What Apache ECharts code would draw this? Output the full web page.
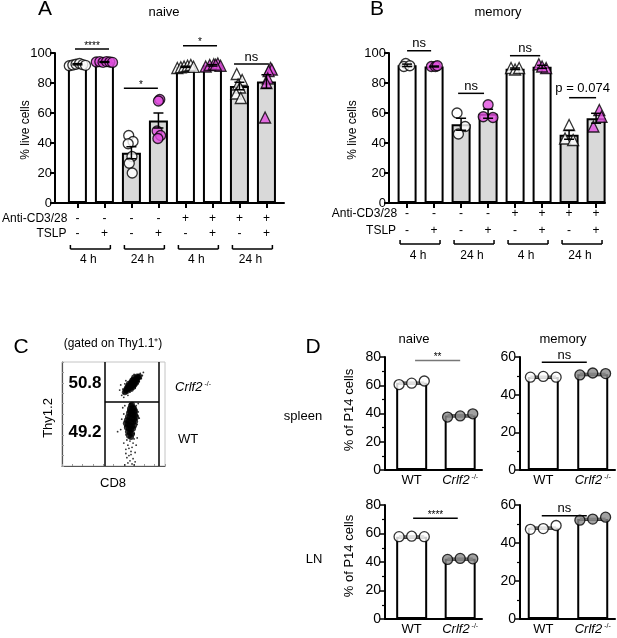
<!DOCTYPE html>
<html><head><meta charset="utf-8">
<script src="https://cdn.jsdelivr.net/npm/echarts@6/dist/echarts.min.js"></script>
<style>html,body{margin:0;padding:0;background:#fff}#c{width:617px;height:638px}</style>
</head><body><div id="c"></div>
<script>
// ---------------- DATA ----------------
// Panels A/B: conditions (8 bars)
const cd3Row  = ['-','-','-','-','+','+','+','+'];
const tslpRow = ['-','+','-','+','-','+','-','+'];
const timeGroups = ['4 h','24 h','4 h','24 h'];
const abYTicks = [0,20,40,60,80,100];

// Panel A: naive, % live cells
const naiveMeans = [92.5, 94, 33.5, 55, 90.8, 91.8, 78, 81];
const naiveSem   = [0.4, 0.3, 4, 5, 0.4, 0.5, 2.5, 4.5];
const naivePoints = [
  [91.5, 92, 92.5, 93, 92.2, 91.8],
  [94, 94.2, 93.8, 94.3, 94, 93.7],
  [45, 41, 39.5, 31, 26.5, 20],
  [69, 68, 48, 45, 43],
  [90, 90.5, 91, 91.5, 92, 90.8],
  [91, 92, 92.5, 93, 91.5, 92.2],
  [86, 82, 79, 77, 73, 70],
  [90, 89, 88, 83, 80, 57]
];
const naiveJitter = [
  [-0.3,-0.17,-0.05,0.08,0.2,0.3],
  [-0.3,-0.17,-0.05,0.08,0.2,0.3],
  [-0.1,0.06,-0.12,0.02,-0.08,0.03],
  [0.05,0.0,-0.05,0.08,-0.02],
  [-0.3,-0.17,-0.05,0.08,0.2,0.3],
  [-0.25,-0.1,0.05,0.2,0.3,0.12],
  [-0.1,0.1,-0.05,0.02,-0.12,0.05],
  [0.15,0.2,0.08,0.05,0.0,-0.05]
];
// Panel B: memory, % live cells
const memoryMeans = [91.8, 91, 52.5, 59.5, 89.5, 90.8, 45.5, 56.5];
const memorySem   = [0.8, 0.3, 4, 3, 0.5, 1, 3, 3.3];
const memoryPoints = [
  [93, 91, 91.5], [91, 91, 91.5], [60, 51, 46], [65.5, 57.5, 57],
  [90, 89, 90], [92.5, 90, 91], [52, 43, 42], [62, 57.5, 51]
];
const memoryJitter = [
  [-0.05,-0.12,0.1], [-0.1,0.05,0.12], [-0.15,0.15,-0.1], [0.0,-0.18,0.18],
  [-0.15,0.0,0.15], [-0.12,0.15,0.0], [0.0,-0.15,0.15], [0.12,0.2,-0.1]
];
// Significance brackets: [x from, x to, y level, label]
const naiveSig  = [[-0.09,1.17,102.7,'****'],[1.72,2.98,76.5,'*'],[3.91,5.17,104.9,'*'],[5.8,7.09,92.7,'ns']];
const memorySig = [[0.0,0.89,101.5,'ns'],[1.89,2.85,73.1,'ns'],[3.81,4.93,98.2,'ns'],[6.0,7.0,70.2,'p = 0.074']];

// Panel C: flow plot (CD8 vs Thy1.2, plot units 0-100)
const gateX = [41.7, 94.2];
const gateSplitY = 61.8;
const gatePercents = ['50.8','49.2'];
const crlf2Core = [[62,73],[63,75],[64,74],[65,76],[66,78],[64,77],[66,75],[67,77],[68,79],[69,78],[67,80],[68,82],[70,81],[69,83],[71,82],[72,84],[73,83],[71,79],[70,78],[72,81],[74,85],[65,79],[63,72],[67,74],[69,76],[73,86],[75,86],[61,71],[70,85]];
const crlf2Sparse = [[60,70],[59,74],[61,79],[70,88],[76,89],[77,84],[74,79],[58,68],[62,82],[78,87],[57,78],[66,71],[71,75],[75,81],[60,66],[64,68],[79,90],[56,73]];
const wtCore = [[67,58],[69,56],[66,55],[68,53],[70,52],[65,51],[67,50],[69,49],[71,49],[64,47],[66,47],[68,46],[70,45],[63,44],[65,43],[67,42],[69,42],[71,43],[64,40],[66,39],[68,38],[70,39],[65,36],[67,35],[69,36],[64,33],[66,32],[68,31],[65,29],[67,28],[70,55],[66,53],[72,47],[62,41],[68,59],[63,37],[71,53]];
const wtSparse = [[72,58],[74,52],[60,50],[61,38],[73,40],[62,30],[70,31],[63,25],[66,24],[69,22],[64,20],[68,18],[62,16],[67,14],[71,13],[65,10],[63,8],[69,7],[66,5],[64,3],[68,2],[61,1],[70,1],[72,20],[60,22],[75,46],[58,45],[59,56],[74,60],[57,35],[73,27],[66,60],[61,58],[54,33],[67,11],[71,4],[62,12],[65,17],[70,26]];

// Panel D: % of P14 cells
const dGroups = ['WT','Crlf2'];
const spleenNaiveMeans = [61.7, 38.6];
const spleenNaiveWT = [60.5, 61.5, 63];
const spleenNaiveKO = [37.5, 38.3, 39.8];
const spleenMemoryMeans = [49.4, 50.9];
const spleenMemoryWT = [49.3, 49.7, 49.3];
const spleenMemoryKO = [50.5, 51.5, 51.2];
const lnNaiveMeans = [57.8, 42.2];
const lnNaiveWT = [57.8, 58.1, 57.8];
const lnNaiveKO = [41.8, 42.5, 42.2];
const lnMemoryMeans = [48, 52.6];
const lnMemoryWT = [47.2, 47.6, 49.2];
const lnMemoryKO = [52, 52.6, 53.6];
const dJitter = [-0.26, 0, 0.26];
const dSig = [[0.07,1.0,77.5,'**'],[-0.03,0.88,57.2,'ns'],[0.03,0.95,70.7,'****'],[-0.03,0.88,54.4,'ns']];

// ---------------- CHART ----------------
const FONT = '"Liberation Sans", Arial, Helvetica, sans-serif';
const MAGENTA = '#e24fe0';
const GREYBAR = '#d9d9d9';
const chart = echarts.init(document.getElementById('c'), null, {renderer:'canvas'});

const grids = [
  {left:55, top:53, width:229, height:150},
  {left:389, top:53, width:216, height:150},
  {left:62, top:362, width:103, height:104, show:true, borderColor:'#c4c4c4', borderWidth:1},
  {left:385, top:357, width:97, height:113},
  {left:520, top:357, width:95, height:113},
  {left:385, top:505, width:97, height:114},
  {left:520, top:505, width:95, height:114}
];
const idx8 = cd3Row.map((_, i) => i);
const blackLine = {show:true, onZero:false, lineStyle:{color:'#000', width:2}};
const xAxes = [], yAxes = [], series = [];

function abAxes(gi, min, max) {
  xAxes.push({gridIndex:gi, type:'value', min, max, axisLine:blackLine,
    axisTick:{show:true, customValues:idx8, length:5, lineStyle:{color:'#000', width:2}},
    axisLabel:{show:false, customValues:idx8}, splitLine:{show:false}});
  yAxes.push({gridIndex:gi, type:'value', min:0, max:100, interval:20, axisLine:blackLine,
    axisTick:{show:true, length:5, lineStyle:{color:'#000', width:2}},
    axisLabel:{color:'#000', fontSize:13, fontFamily:FONT, margin:3}, splitLine:{show:false}});
}
function errRender(params, api) {
  const x = api.value(0), m = api.value(1), s = api.value(2);
  const t = api.coord([x, m + s]), b = api.coord([x, m - s]);
  const hw = 5, st = {stroke:'#000', lineWidth:1.5};
  return {type:'group', children:[
    {type:'line', shape:{x1:t[0], y1:t[1], x2:b[0], y2:b[1]}, style:st},
    {type:'line', shape:{x1:t[0]-hw, y1:t[1], x2:t[0]+hw, y2:t[1]}, style:st},
    {type:'line', shape:{x1:b[0]-hw, y1:b[1], x2:b[0]+hw, y2:b[1]}, style:st}
  ]};
}
function abSeries(gi, means, sem, points, jitter) {
  series.push({type:'bar', xAxisIndex:gi, yAxisIndex:gi, barWidth:19, silent:true,
    data: means.map((v, i) => ({value:[i, v], itemStyle:{color: (Math.floor(i/2) % 2 === 1) ? GREYBAR : '#fff'}})),
    itemStyle:{borderColor:'#000', borderWidth:2}, z:2});
  const pts = [];
  points.forEach((arr, i) => arr.forEach((v, k) => {
    const tri = cd3Row[i] === '+';
    pts.push({value:[i + jitter[i][k], v], symbol: tri ? 'triangle' : 'circle', symbolSize: tri ? 11 : 10,
      itemStyle:{color: tslpRow[i] === '+' ? MAGENTA : '#fff', borderColor:'#000', borderWidth:1.3}});
  }));
  series.push({type:'scatter', xAxisIndex:gi, yAxisIndex:gi, data:pts, silent:true, z:3});
  series.push({type:'custom', xAxisIndex:gi, yAxisIndex:gi, renderItem:errRender, silent:true, z:4,
    data: means.map((v, i) => [i, v, sem[i]]), encode:{x:0, y:1}});
}
abAxes(0, -0.83, 7.65); abSeries(0, naiveMeans, naiveSem, naivePoints, naiveJitter);
abAxes(1, -0.67, 7.33); abSeries(1, memoryMeans, memorySem, memoryPoints, memoryJitter);

// Panel C
xAxes.push({gridIndex:2, type:'value', min:0, max:100, interval:10,
  axisLine:{show:true, onZero:false, lineStyle:{color:'#555', width:1.2}},
  axisTick:{show:true, inside:true, length:2, lineStyle:{color:'#999'}}, axisLabel:{show:false}, splitLine:{show:false}});
yAxes.push({gridIndex:2, type:'value', min:0, max:100, interval:10,
  axisLine:{show:true, onZero:false, lineStyle:{color:'#555', width:1.2}},
  axisTick:{show:true, inside:true, length:2, lineStyle:{color:'#999'}}, axisLabel:{show:false}, splitLine:{show:false}});
const gateLines = [
  [[gateX[0], 0], [gateX[0], 100]],
  [[gateX[1], 0], [gateX[1], 100]],
  [[gateX[0], gateSplitY], [gateX[1], gateSplitY]]
];
series.push({type:'scatter', xAxisIndex:2, yAxisIndex:2, symbolSize:6, silent:true,
  itemStyle:{color:'#000'}, data: crlf2Core.concat(wtCore),
  markLine:{silent:true, symbol:'none', label:{show:false}, lineStyle:{color:'#000', width:1.5, type:'solid'},
    data: gateLines.map(l => [{coord:l[0]}, {coord:l[1]}])}});
series.push({type:'scatter', xAxisIndex:2, yAxisIndex:2, symbolSize:1.8, silent:true,
  itemStyle:{color:'#000'}, data: crlf2Sparse.concat(wtSparse)});

// Panel D
const dIdx = [0, 1];
function dPanel(gi, ymax, means, wt, ko, min, max) {
  xAxes.push({gridIndex:gi, type:'value', min, max, axisLine:blackLine, axisTick:{show:false},
    axisLabel:{customValues:dIdx, margin:4, color:'#000', fontFamily:FONT, fontSize:13,
      formatter: v => v === 0 ? dGroups[0] : '{it|' + dGroups[1] + '}{sup| -/-}',
      rich:{it:{fontStyle:'italic', fontSize:13, fontFamily:FONT, color:'#000'},
            sup:{fontSize:7, fontFamily:FONT, color:'#000', verticalAlign:'top', padding:[0,0,6,0]}}},
    splitLine:{show:false}});
  yAxes.push({gridIndex:gi, type:'value', min:0, max:ymax, interval:20, axisLine:blackLine,
    axisTick:{show:true, length:5, lineStyle:{color:'#000', width:1.5}},
    minorTick:{show:true, splitNumber:2, length:3, lineStyle:{color:'#000', width:1.2}},
    axisLabel:{color:'#000', fontSize:14, fontFamily:FONT, margin:4}, splitLine:{show:false}});
  series.push({type:'bar', xAxisIndex:gi, yAxisIndex:gi, barWidth:31, silent:true, z:2,
    data: means.map((v, i) => [i, v]), itemStyle:{color:'#fff', borderColor:'#000', borderWidth:2}});
  series.push({type:'custom', xAxisIndex:gi, yAxisIndex:gi, silent:true, z:3, encode:{x:0, y:1},
    data: means.map((v, i) => [i, v]),
    renderItem:(p, api) => {
      const a = api.coord([api.value(0) - 0.26, api.value(1)]), b = api.coord([api.value(0) + 0.26, api.value(1)]);
      return {type:'line', shape:{x1:a[0], y1:a[1], x2:b[0], y2:b[1]}, style:{stroke:'#666', lineWidth:3}};
    }});
  const pts = [];
  wt.forEach((v, k) => pts.push({value:[0 + dJitter[k], v], itemStyle:{color:'#fff'}}));
  ko.forEach((v, k) => pts.push({value:[1 + dJitter[k], v], itemStyle:{color:'#8a8a8a'}}));
  series.push({type:'scatter', xAxisIndex:gi, yAxisIndex:gi, symbolSize:10, silent:true, z:4,
    itemStyle:{borderColor:'#000', borderWidth:1.3}, data:pts});
}
dPanel(3, 80, spleenNaiveMeans, spleenNaiveWT, spleenNaiveKO, -0.55, 1.45);
dPanel(4, 60, spleenMemoryMeans, spleenMemoryWT, spleenMemoryKO, -0.47, 1.45);
dPanel(5, 80, lnNaiveMeans, lnNaiveWT, lnNaiveKO, -0.55, 1.45);
dPanel(6, 60, lnMemoryMeans, lnMemoryWT, lnMemoryKO, -0.47, 1.45);

chart.setOption({animation:false, backgroundColor:'#fff', textStyle:{fontFamily:FONT},
  grid:grids, xAxis:xAxes, yAxis:yAxes, series});

// ---------------- ANNOTATIONS (positioned through the axes' scales) ----------------
const g = [];
const px = (gi, x, y) => chart.convertToPixel({gridIndex:gi}, [x, y]);
function txt(x, y, text, o) {
  o = o || {};
  g.push({type:'text', x, y, rotation:o.rot || 0, silent:true, z:100,
    style:{text, fill:'#000', fontFamily:FONT, fontSize:o.size || 13, fontWeight:o.weight || 'normal',
      fontStyle:o.style || 'normal', align:o.align || 'center', verticalAlign:o.va || 'middle', rich:o.rich}});
}
function line(x1, y1, x2, y2, color, w) {
  g.push({type:'line', silent:true, z:100, shape:{x1, y1, x2, y2}, style:{stroke:color || '#000', lineWidth:w || 1.5}});
}
function sig(gi, list, color) {
  list.forEach(([a, b, y, t]) => {
    const p1 = px(gi, a, y), p2 = px(gi, b, y);
    line(p1[0], p1[1], p2[0], p2[1], color, 1.5);
    const star = t.indexOf('*') === 0;
    const cx = (p1[0] + p2[0]) / 2;
    if (star) txt(cx, p1[1] - 3, t, {size:10});
    else if (t.indexOf('p') === 0) txt(cx, p1[1] - 9, t, {size:13});
    else txt(cx, p1[1] - 7, t, {size:13});
  });
}
sig(0, naiveSig); sig(1, memorySig);
sig(3, [dSig[0]], '#777'); sig(4, [dSig[1]]); sig(5, [dSig[2]]); sig(6, [dSig[3]]);

function rows(gi, yCd3, yTslp, yBr, yLab) {
  const first = px(gi, 0, 0)[0];
  txt(first - 10, yCd3, 'Anti-CD3/28', {size:12, align:'right'});
  txt(first - 11, yTslp, 'TSLP', {size:12, align:'right'});
  idx8.forEach(i => {
    const x = px(gi, i, 0)[0];
    txt(x, yCd3, cd3Row[i], {size:12});
    txt(x, yTslp, tslpRow[i], {size:12});
  });
  timeGroups.forEach((t, k) => {
    const a = px(gi, 2 * k - 0.26, 0)[0], b = px(gi, 2 * k + 1.22, 0)[0];
    line(a, yBr, b, yBr, '#000', 1.5);
    line(a, yBr, a, yBr - 4, '#000', 1.5);
    line(b, yBr, b, yBr - 4, '#000', 1.5);
    txt((a + b) / 2 - 2, yLab, t, {size:12});
  });
}
rows(0, 219, 234, 249, 260);
rows(1, 214, 231, 244, 256);

// titles and labels
txt(45, 9, 'A', {size:21}); txt(164, 12, 'naive', {size:13});
txt(377, 9, 'B', {size:21}); txt(498, 12, 'memory', {size:13});
txt(26, 130, '% live cells', {size:12, rot:Math.PI/2});
txt(353, 130, '% live cells', {size:12, rot:Math.PI/2});
// panel C
txt(21, 347, 'C', {size:21});
txt(113, 344, '(gated on Thy1.1\u207A)', {size:12});
txt(85, 383, gatePercents[0], {size:17, weight:'bold'});
txt(85, 432, gatePercents[1], {size:17, weight:'bold'});
txt(175, 387, '{it|Crlf2}{sup| -/-}', {align:'left', rich:{it:{fontStyle:'italic', fontSize:13, fontFamily:FONT}, sup:{fontSize:7, fontFamily:FONT, verticalAlign:'top', padding:[0,0,6,0]}}});
txt(178, 439, 'WT', {size:13, align:'left'});
txt(48, 418, 'Thy1.2', {size:13, rot:Math.PI/2});
txt(113, 483, 'CD8', {size:13});
// panel D
txt(313, 347, 'D', {size:21});
txt(414, 339, 'naive', {size:13}); txt(563, 339, 'memory', {size:13});
txt(303, 416, 'spleen', {size:13}); txt(314, 559, 'LN', {size:13});
txt(349, 410, '% of P14 cells', {size:13, rot:Math.PI/2});
txt(349, 556, '% of P14 cells', {size:13, rot:Math.PI/2});

chart.setOption({graphic:g});
</script></body></html>
